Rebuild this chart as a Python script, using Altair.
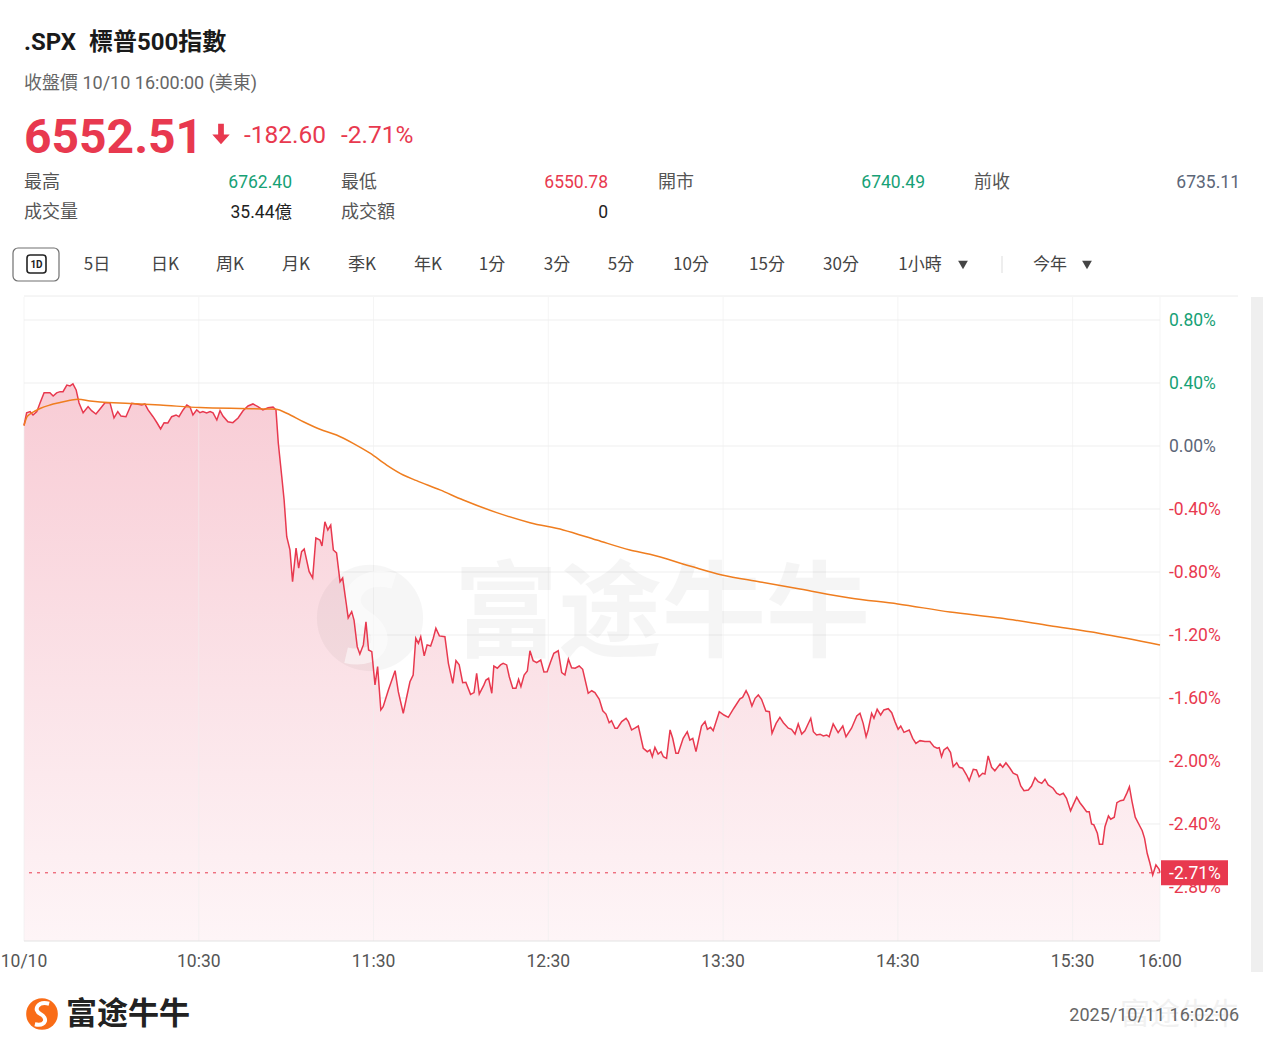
import altair as alt
import pandas as pd

# ---------------- data ----------------
symbol = ".SPX"
index_name = "標普500指數"
close_caption = "收盤價 10/10 16:00:00 (美東)"
last_price = "6552.51"
change_abs = "-182.60"
change_pct_text = "-2.71%"
LAST_PCT = -2.71

stat_labels = ["最高", "最低", "開市", "前收", "成交量", "成交額"]
stat_values = ["6762.40", "6550.78", "6740.49", "6735.11", "35.44億", "0"]
stat_kinds = ["up", "down", "up", "flat", "plain", "plain"]

tab_labels = ["5日", "日K", "周K", "月K", "季K", "年K", "1分", "3分", "5分",
              "10分", "15分", "30分", "1小時", "今年"]

# minutes since 09:30 and % change vs previous close (6735.11)
minutes = [
    0, 0.9, 2.1, 3.1, 4.4, 5.5, 6.9, 8.9, 10.0, 11.2,
    12.4, 13.4, 14.7, 15.8, 16.8, 17.9, 18.9, 20.3, 22.0, 23.2,
    24.7, 26.1, 27.8, 29.5, 30.9, 32.2, 33.3, 35.0, 37.0, 38.7,
    40.4, 41.5, 42.6, 44.3, 45.7, 46.9, 48.1, 49.4, 50.7, 52.2,
    53.2, 54.6, 55.9, 57.0, 58.0, 59.3, 60.4, 61.4, 62.7, 63.9,
    64.9, 66.2, 67.3, 68.3, 70.0, 71.7, 73.5, 75.2, 76.9, 78.6,
    80.3, 82.0, 83.8, 85.5, 86.5,
    87.3, 88.5, 89.3, 90.2, 91.3,
    92.2, 93.4, 94.3, 95.3, 96.2, 97.9, 99.1, 100.2, 101.6, 102.3,
    103.3, 104.3, 105.3, 106.2, 107.3, 108.5, 109.4, 111.3, 112.5, 113.3,
    114.4, 115.3, 116.5, 117.4, 118.3, 119.4, 120.5, 121.4, 122.5, 123.3,
    125.1, 127.4, 128.5, 130.2, 131.4, 132.5, 133.6, 134.5, 135.4,
    136.2, 137.4, 138.4, 139.6, 140.5, 141.4, 142.6, 144.5, 145.7, 147.2, 148.3,
    149.4, 150.6, 151.7, 153.3, 154.5, 155.4, 156.3, 157.9, 158.6, 159.5,
    160.6, 161.3, 162.5, 163.6, 164.5, 165.7, 166.6, 167.8, 168.9, 169.8,
    170.6, 171.7, 172.8, 173.7, 174.8, 176.0, 177.4, 178.5, 179.6, 180.8, 181.9, 183.4,
    184.6, 185.7, 186.9, 188.0, 189.2, 190.6, 191.8, 193.7,
    194.9, 196.0, 197.5, 198.7, 199.8, 200.9, 201.7, 202.9, 203.7, 205.2,
    206.7, 207.5, 208.6, 209.7, 210.9, 212.6, 214.0, 214.9, 215.7, 216.6,
    217.7, 218.7, 219.5, 220.6, 221.8, 222.7, 223.8, 224.6, 226.3, 227.7,
    228.6, 229.6, 230.7, 232.6, 233.8, 234.6, 235.7, 236.6, 238.7, 240.3,
    241.8, 243.7, 245.8, 246.7, 247.9, 248.8, 249.9, 251.0, 252.1, 253.2,
    254.7, 255.9, 256.8, 258.2, 259.5, 260.7, 262.4, 263.5, 264.7, 265.8,
    267.0, 268.1, 270.1, 271.0, 272.1, 273.3, 274.4, 275.6, 276.4, 277.8,
    279.5, 281.1, 282.2, 284.1, 285.9,
    287.0, 288.1, 289.1, 289.8, 291.0,
    291.8, 292.9, 294.1, 295.2, 296.7, 297.9, 299.0, 300.1, 301.0, 302.1,
    303.9, 305.1, 306.2, 307.6, 309.3, 311.0, 312.4, 313.5, 314.2, 315.0,
    315.8, 317.0, 318.1, 319.0, 320.2, 321.1, 322.2, 323.6, 324.5, 325.9,
    327.0, 327.9, 329.1, 329.9, 331.0, 332.2, 333.3, 335.1, 336.0, 337.1,
    338.5, 339.6, 341.0, 342.2, 343.3, 344.8, 345.9, 347.1, 348.2, 349.4,
    350.5, 351.6, 353.3, 354.5, 355.6, 356.8, 357.9, 359.3, 360.2, 361.4,
    362.5, 363.7, 364.8, 365.7, 366.5, 367.3, 368.5, 369.2, 370.3, 371.1,
    372.3, 373.1, 374.3, 375.2, 376.4, 377.5, 378.7, 379.5, 380.4, 381.5,
    382.7, 383.9, 384.7, 385.6, 386.5, 387.5, 388.6, 389.7, 390,
]
change_pct = [
    0.13, 0.211, 0.218, 0.197, 0.218, 0.273, 0.338, 0.338, 0.317, 0.337,
    0.345, 0.345, 0.387, 0.381, 0.394, 0.356, 0.273, 0.211, 0.250, 0.224,
    0.203, 0.235, 0.275, 0.275, 0.178, 0.218, 0.190, 0.186, 0.271, 0.267,
    0.260, 0.267, 0.229, 0.186, 0.146, 0.108, 0.148, 0.146, 0.186, 0.197,
    0.186, 0.229, 0.260, 0.248, 0.197, 0.229, 0.211, 0.218, 0.210, 0.218,
    0.210, 0.165, 0.224, 0.190, 0.154, 0.148, 0.178, 0.224, 0.254, 0.267,
    0.250, 0.229, 0.243, 0.248, 0.229,
    0.019, -0.195, -0.343, -0.576, -0.660,
    -0.862, -0.648, -0.775, -0.671, -0.654, -0.798, -0.838, -0.584, -0.597, -0.635,
    -0.481, -0.533, -0.502, -0.660, -0.679, -0.862, -0.838, -1.092, -1.052, -1.105,
    -1.274, -1.321, -1.263, -1.116, -1.295, -1.306, -1.517, -1.401, -1.676, -1.655,
    -1.549, -1.427, -1.560, -1.697, -1.592, -1.497, -1.454, -1.221, -1.253,
    -1.211, -1.333, -1.263, -1.270, -1.221, -1.157, -1.206, -1.211, -1.380, -1.507, -1.363,
    -1.390, -1.503, -1.500, -1.577, -1.566, -1.443, -1.575, -1.517, -1.486, -1.475,
    -1.570, -1.397, -1.411, -1.390, -1.380, -1.390, -1.465, -1.538, -1.538, -1.481,
    -1.528, -1.454, -1.429, -1.300, -1.363, -1.376, -1.359, -1.435, -1.433, -1.370, -1.316, -1.300,
    -1.439, -1.454, -1.354, -1.408, -1.411, -1.397, -1.418, -1.570,
    -1.554, -1.566, -1.608, -1.681, -1.702, -1.757, -1.744, -1.792, -1.792, -1.750,
    -1.729, -1.750, -1.803, -1.792, -1.778, -1.919, -1.941, -1.930, -1.973, -1.913,
    -1.956, -1.941, -1.973, -1.983, -1.803, -1.856, -1.951, -1.951, -1.856, -1.814,
    -1.867, -1.856, -1.941, -1.778, -1.750, -1.799, -1.786, -1.808, -1.687, -1.708,
    -1.723, -1.665, -1.606, -1.596, -1.554, -1.587, -1.651, -1.602, -1.581, -1.608,
    -1.683, -1.687, -1.824, -1.761, -1.723, -1.757, -1.792, -1.799, -1.829, -1.765,
    -1.829, -1.808, -1.729, -1.814, -1.835, -1.830, -1.841, -1.835, -1.846, -1.765,
    -1.820, -1.778, -1.846, -1.792, -1.714,
    -1.697, -1.761, -1.846, -1.803, -1.697,
    -1.729, -1.672, -1.708, -1.676, -1.668, -1.693, -1.750, -1.799, -1.778, -1.818,
    -1.803, -1.856, -1.888, -1.871, -1.877, -1.877, -1.909, -1.919, -1.916, -1.973,
    -1.930, -1.913, -1.947, -2.036, -2.011, -2.040, -2.046, -2.089, -2.125, -2.053,
    -2.057, -2.100, -2.078, -2.083, -1.968, -2.040, -2.062, -2.019, -2.040, -2.011,
    -2.046, -2.078, -2.089, -2.159, -2.189, -2.184, -2.159, -2.106, -2.131, -2.142,
    -2.116, -2.152, -2.173, -2.205, -2.216, -2.205, -2.237, -2.317, -2.279, -2.230,
    -2.265, -2.294, -2.322, -2.322, -2.400, -2.406, -2.459, -2.529, -2.529, -2.417,
    -2.349, -2.370, -2.357, -2.265, -2.252, -2.248, -2.201, -2.163, -2.258, -2.357,
    -2.400, -2.443, -2.491, -2.586, -2.646, -2.724, -2.660, -2.688, -2.710,
]
avg_minutes = [0, 1.0, 2.1, 3.8, 5.5, 8.9, 12.4, 15.8, 18.6, 22.7,
               26.1, 36.4, 46.7, 60.4, 74.2, 84.4, 86.7, 90.2, 95.9, 101.6,
               107.3, 113.0, 118.8, 124.5, 130.2, 134.8, 142.8, 150.8, 162.3, 173.7,
               185.1, 196.6, 208.0, 214.9, 228.6, 239.6, 252.7, 266.4, 283.6, 300.0,
               317.9, 335.1, 352.2, 369.4, 390]
avg_pct = [0.13, 0.184, 0.203, 0.222, 0.238, 0.260, 0.276, 0.290, 0.297, 0.286,
           0.279, 0.270, 0.260, 0.244, 0.238, 0.235, 0.233, 0.208, 0.154, 0.106,
           0.070, 0.017, -0.046, -0.121, -0.184, -0.220, -0.279, -0.343, -0.423, -0.487,
           -0.533, -0.597, -0.660, -0.688, -0.762, -0.819, -0.863, -0.908, -0.965, -1.003,
           -1.054, -1.092, -1.141, -1.190, -1.263]

ytick_values = [0.8, 0.4, 0.0, -0.4, -0.8, -1.2, -1.6, -2.0, -2.4, -2.8]
xtick_values = [0, 60, 120, 180, 240, 300, 360, 390]
xtick_labels = ["10/10", "10:30", "11:30", "12:30", "13:30", "14:30", "15:30", "16:00"]
footer_brand = "富途牛牛"
timestamp = "2025/10/11 16:02:06"

assert len(minutes) == len(change_pct)
assert len(avg_minutes) == len(avg_pct)

# ---------------- layout / style ----------------
OX, OY = 24, 297          # plot origin in page pixels
PW, PH = 1136, 644        # plot size
YMAX, YMIN = 0.946, -3.143
RED = "#e8394f"
GREEN = "#17a176"
FLAT = "#5c6678"
ORANGE = "#ef7d1f"
GRID = "#efefef"
FONT = "Roboto, 'Noto Sans CJK TC', sans-serif"
CJK = "'Noto Sans CJK TC', Roboto, sans-serif"
KIND_COLORS = {"up": GREEN, "down": RED, "flat": FLAT, "plain": "#222222"}

stat_label_x = [24, 341, 658, 974]
stat_value_x = [292, 608, 925, 1240]
stat_row_y = [183, 213]
tab_x = [97, 165, 230, 296, 362, 428, 492, 557, 621, 691, 767, 841, 920, 1050]
TAB_Y = 265

one = pd.DataFrame({"k": [0]})
yscale = alt.Scale(domain=[YMIN, YMAX], nice=False, zero=False)
xscale = alt.Scale(domain=[0, 390], nice=False, zero=False)


def txt(s, x, y, size=16, color="#333", align="left", baseline="middle",
        weight="normal", font=FONT, opacity=1.0):
    return alt.Chart(one).mark_text(
        text=s, align=align, baseline=baseline, fontSize=size, color=color,
        fontWeight=weight, font=font, opacity=opacity
    ).encode(x=alt.value(x - OX), y=alt.value(y - OY))


def hrule(x1, x2, y, color, w=1):
    return alt.Chart(one).mark_rule(color=color, strokeWidth=w).encode(
        x=alt.value(x1 - OX), x2=alt.value(x2 - OX), y=alt.value(y - OY))


def vrule(x, y1, y2, color, w=1):
    return alt.Chart(one).mark_rule(color=color, strokeWidth=w).encode(
        x=alt.value(x - OX), y=alt.value(y1 - OY), y2=alt.value(y2 - OY))


def box(x1, x2, y1, y2, fill="white", stroke=None, sw=1, r=0, opacity=1.0):
    kw = dict(fill=fill, cornerRadius=r, opacity=opacity)
    if stroke:
        kw.update(stroke=stroke, strokeWidth=sw)
    return alt.Chart(one).mark_rect(**kw).encode(
        x=alt.value(x1 - OX), x2=alt.value(x2 - OX),
        y=alt.value(y1 - OY), y2=alt.value(y2 - OY))


def shape(path, x, y, size, color, filled=True, sw=1, opacity=1.0):
    if filled:
        m = alt.Chart(one).mark_point(shape=path, filled=True, fill=color,
                                      strokeWidth=0, size=size, opacity=opacity)
    else:
        m = alt.Chart(one).mark_point(shape=path, filled=False, stroke=color,
                                      strokeWidth=sw, size=size, opacity=opacity)
    return m.encode(x=alt.value(x - OX), y=alt.value(y - OY))


price_df = pd.DataFrame({"minute": minutes, "pct": change_pct})
avg_df = pd.DataFrame({"minute": avg_minutes, "pct": avg_pct})
ytick_df = pd.DataFrame({
    "value": ytick_values,
    "label": [f"{v:.2f}%" for v in ytick_values],
    "kind": ["up" if v > 0.001 else ("down" if v < -0.001 else "flat") for v in ytick_values],
})
xtick_df = pd.DataFrame({"minute": xtick_values, "label": xtick_labels})

X = lambda f="minute:Q": alt.X(f, scale=xscale, axis=None)
Y = lambda f="pct:Q": alt.Y(f, scale=yscale, axis=None)

layers = []

# frame decorations
layers.append(hrule(24, 1238, 296, "#ececec"))
layers.append(box(1251, 1263, 297, 972, fill="#efefef"))

# grid (drawn through the scales)
layers.append(alt.Chart(ytick_df).mark_rule(color=GRID, strokeWidth=1).encode(y=Y("value:Q")))

# area under price
area = alt.Chart(price_df).mark_area(
    interpolate="linear",
    color=alt.Gradient(gradient="linear", x1=0, x2=0, y1=0, y2=1,
                       stops=[alt.GradientStop(color="#f8ccd5", offset=0),
                              alt.GradientStop(color="#fbe3e8", offset=0.55),
                              alt.GradientStop(color="#fef5f7", offset=1)]),
).encode(x=X(), y=Y(), y2=alt.datum(YMIN))
layers.append(area)

layers.append(alt.Chart(xtick_df).mark_rule(color=GRID, strokeWidth=1, opacity=0.6).encode(x=X()))
layers.append(alt.Chart(one).mark_rule(color="#e3e3e3", strokeWidth=1).encode(
    y=alt.Y(datum=YMIN, type="quantitative", scale=yscale, axis=None)))

# watermark
layers.append(shape("circle", 370, 618, 11300, "#000000", opacity=0.035))
layers.append(shape("M0.45,-0.7 C-0.2,-0.9 -0.6,-0.3 -0.1,0 C0.4,0.3 0.2,0.85 -0.45,0.7",
                    370, 618, 11300, "#ffffff", filled=False, sw=16, opacity=0.55))
layers.append(txt(footer_brand, 662, 618, size=104, color="#000000", align="center",
                  weight="bold", font="'Noto Sans CJK SC', sans-serif", opacity=0.035))

price_line = alt.Chart(price_df).mark_line(color=RED, strokeWidth=1.5).encode(x=X(), y=Y())
avg_line = alt.Chart(avg_df).mark_line(color=ORANGE, strokeWidth=1.5,
                                        interpolate="monotone").encode(x=X(), y=Y())
layers += [price_line, avg_line]

# last-price dashed rule
layers.append(alt.Chart(one).mark_rule(color=RED, strokeDash=[3, 5], strokeWidth=1).encode(
    y=alt.Y(datum=LAST_PCT, type="quantitative", scale=yscale, axis=None)))

# x labels (bottom)
layers.append(alt.Chart(xtick_df).mark_text(align="center", baseline="middle", fontSize=17.5,
                                            font=FONT, color="#555555").encode(
    x=X(), y=alt.value(962 - OY), text="label:N"))

# y labels (right)
layers.append(alt.Chart(ytick_df).mark_text(align="left", baseline="middle", fontSize=17.5,
                                            font=FONT, dy=1.5).encode(
    x=alt.value(1169 - OX),
    y=Y("value:Q"),
    text="label:N",
    color=alt.Color("kind:N", legend=None,
                    scale=alt.Scale(domain=list(KIND_COLORS), range=list(KIND_COLORS.values())))))

# last value badge
half = 12.5 / (PH / (YMAX - YMIN))
layers.append(alt.Chart(one).mark_rect(color=RED).encode(
    x=alt.value(1161 - OX), x2=alt.value(1228 - OX),
    y=alt.Y(datum=LAST_PCT + half, type="quantitative", scale=yscale, axis=None),
    y2=alt.datum(LAST_PCT - half)))
layers.append(alt.Chart(one).mark_text(text=change_pct_text, color="white", fontSize=17.5,
                                       font=FONT, align="center", baseline="middle",
                                       dy=1).encode(
    x=alt.value(1195 - OX),
    y=alt.Y(datum=LAST_PCT, type="quantitative", scale=yscale, axis=None)))

# ---------------- header ----------------
layers.append(txt(symbol, 24, 42.5, size=24, color="#1a1a1a", weight="bold"))
layers.append(txt(index_name, 89, 42.5, size=24, color="#1a1a1a", weight="bold"))
layers.append(txt(close_caption, 24, 84, size=18, color="#666666"))
layers.append(txt(last_price, 24, 153, size=48, color=RED, weight="bold", baseline="alphabetic"))
layers.append(shape("M-0.28,-1 L0.28,-1 L0.28,0.05 L0.85,0.05 L0,1 L-0.85,0.05 L-0.28,0.05 Z",
                    221, 134, 420, RED))
layers.append(txt(change_abs, 244, 135.5, size=24.5, color=RED))
layers.append(txt(change_pct_text, 341, 135.5, size=24.5, color=RED))

for i, (lab, val, kind) in enumerate(zip(stat_labels, stat_values, stat_kinds)):
    row = 0 if i < 4 else 1
    col = i if i < 4 else i - 4
    y = stat_row_y[row]
    layers.append(txt(lab, stat_label_x[col], y, size=18, color="#555555", font=CJK))
    layers.append(txt(val, stat_value_x[col], y, size=17.5, color=KIND_COLORS[kind], align="right"))

# tab bar
layers.append(box(13, 59, 248, 281, fill="white", stroke="#707070", sw=1.2, r=5))
layers.append(box(27, 46, 255, 273, fill="white", stroke="#222222", sw=1.6, r=3))
layers.append(txt("1D", 36.5, 264.5, size=10, color="#222222", align="center", weight="bold"))
for lab, x in zip(tab_labels, tab_x):
    layers.append(txt(lab, x, TAB_Y, size=17, color="#444444", align="center", font=CJK))
layers.append(shape("triangle-down", 963, 265, 95, "#444444"))
layers.append(shape("triangle-down", 1087, 265, 95, "#444444"))
layers.append(vrule(1002, 256, 273, "#dddddd"))

# ---------------- footer ----------------
layers.append(shape("circle", 42, 1014, 1000, "#f96c17"))
layers.append(shape("M0.45,-0.65 C-0.25,-0.85 -0.6,-0.25 -0.1,0 C0.4,0.25 0.25,0.8 -0.45,0.65",
                    42, 1014, 1000, "#ffffff", filled=False, sw=4))
layers.append(txt(footer_brand, 66, 1015, size=31, color="#222222", weight="bold",
                  font="'Noto Sans CJK SC', sans-serif"))
layers.append(txt(footer_brand, 1240, 1015, size=30, color="#000000", align="right",
                  font="'Noto Sans CJK SC', sans-serif", opacity=0.05))
layers.append(txt(timestamp, 1239, 1016, size=18, color="#666666", align="right"))

chart = alt.layer(*layers).properties(
    width=PW, height=PH,
    padding={"left": OX, "top": OY, "right": 1263 - OX - PW, "bottom": 1055 - OY - PH},
    autosize=alt.AutoSizeParams(type="none"),
    background="white",
).configure_view(stroke=None)

chart.save("out.html", embed_options={"renderer": "svg", "actions": False})
